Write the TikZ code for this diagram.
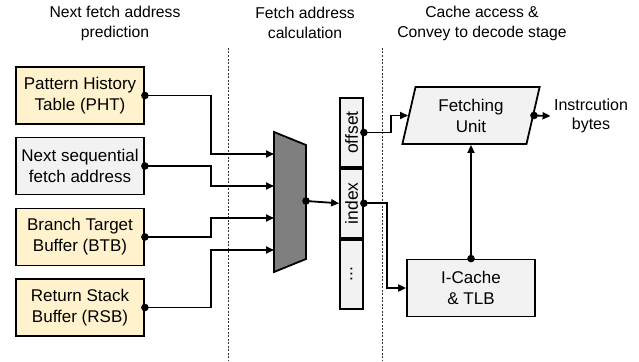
\documentclass[tikz,border=0pt]{standalone}
\usepackage{fontspec}
\setmainfont{Liberation Sans}
\usetikzlibrary{arrows.meta,shapes.geometric,positioning}

\definecolor{predfill}{HTML}{FFF2CC}
\definecolor{seqfill}{HTML}{F2F2F2}
\definecolor{muxfill}{HTML}{7F7F7F}

\tikzset{
  unitbox/.style={draw, line width=1.8pt, minimum width=128pt, minimum height=57pt,
    inner sep=0pt, align=center, font=\fontsize{17}{21}\selectfont},
  field/.style={draw, line width=1.8pt, fill=seqfill, minimum width=23pt,
    minimum height=69pt, inner sep=0pt, font=\fontsize{17.5}{21}\selectfont},
  header/.style={align=center, font=\fontsize{15.7}{20}\selectfont},
  wire/.style={line width=1.8pt},
  stage/.style={line width=0.7pt, dash pattern=on 2pt off 1.5pt, black!80},
}

\begin{document}
\begin{tikzpicture}[x=1pt,y=-1pt,>={Triangle[length=8pt,width=7pt]}]
\useasboundingbox[fill=white] (0,0) rectangle (639,361);
% stage headers
\node[header] (h1) at (115,23) {Next fetch address\\prediction};
\node[header] (h2) at (305,23) {Fetch address\\calculation};
\node[header] (h3) at (482,23) {Cache access \&\\Convey to decode stage};
\draw[stage] (228,48) -- (228,361);
\draw[stage] (382,48) -- (382,361);
% predictors
\node[unitbox, fill=predfill] (pht) at (80,95.5) {Pattern History\\Table (PHT)};
\node[unitbox, fill=seqfill] (seq) at (80,166) {Next sequential\\fetch address};
\node[unitbox, fill=predfill] (btb) at (80,237) {Branch Target\\Buffer (BTB)};
\node[unitbox, fill=predfill] (rsb) at (80,307.5) {Return Stack\\Buffer (RSB)};
% mux
\coordinate (mtl) at (274,132);
\coordinate (mtr) at (306,145);
\coordinate (mbr) at (306,259);
\coordinate (mbl) at (274,272);
\filldraw[wire, fill=muxfill] (mtl) -- (mtr) -- (mbr) -- (mbl) -- cycle;
\coordinate (in1) at (274,154);
\coordinate (in2) at (274,186);
\coordinate (in3) at (274,218);
\coordinate (in4) at (274,250);
\coordinate (mout) at (306,201);
% address register
\node[field] (offset) at (351.5,132.5) {\rotatebox{90}{offset}};
\node[field, below=0pt of offset] (index) {\rotatebox{90}{index}};
\node[field, below=0pt of index] (rest) {\rotatebox{90}{...}};
% cache side
\node[unitbox, fill=seqfill, trapezium, trapezium left angle=77,
  trapezium right angle=103] (fetch) at (471,115.5) {Fetching\\Unit};
\node[unitbox, fill=seqfill] (icache) at (471,288) {I-Cache\\\& TLB};
\node[header, font=\fontsize{16}{19}\selectfont] (bytes) at (591,116) {Instrcution\\bytes};
% wires
\draw[wire,->] (pht.east) -- ++(66,0) |- (in1);
\draw[wire,->] (seq.east) -- ++(66,0) |- (in2);
\draw[wire,->] (btb.east) -- ++(66,0) |- (in3);
\draw[wire,->] (rsb.east) -- ++(66,0) |- (in4);
\draw[wire,->] (mout) -- (index.west);
\draw[wire,->] (offset.east) -- ++(27,0) |- (fetch.west);
\draw[wire,->] (index.east) -- ++(23,0) |- (icache.west);
\draw[wire,->] (icache.north) -- (icache.north |- fetch.south);
\draw[wire,->] (fetch.east) -- (bytes.west);
% junction dots
\foreach \p in {pht.east, seq.east, btb.east, rsb.east, mout, offset.east,
  index.east, icache.north, fetch.east}
  \fill (\p) circle (3.8pt);
\end{tikzpicture}
\end{document}
